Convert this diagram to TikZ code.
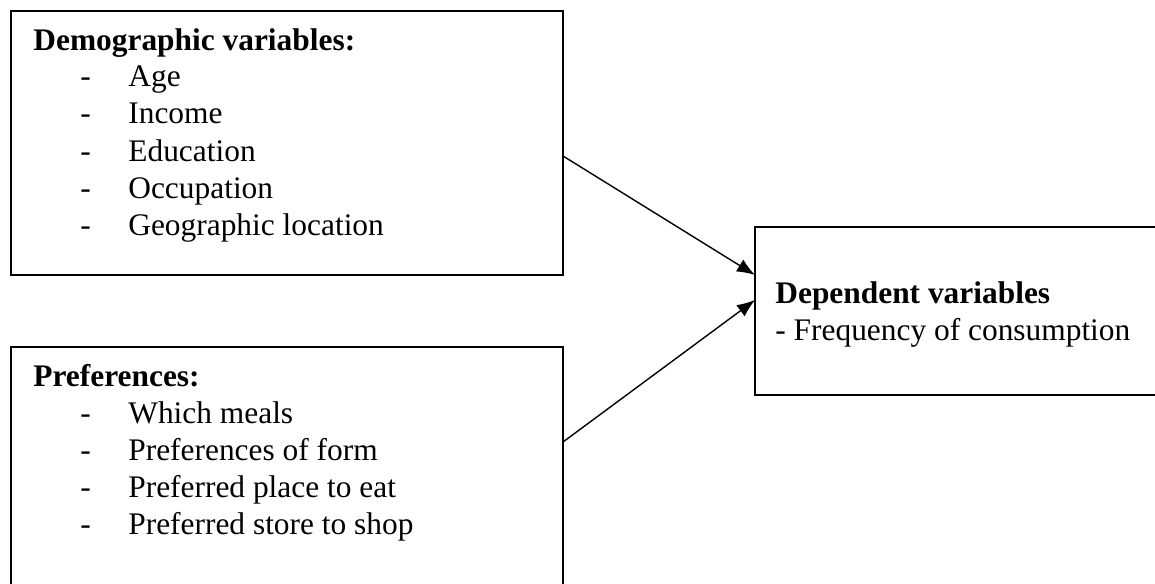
\documentclass[tikz,border=0pt]{standalone}
\usepackage{fontspec}
\setmainfont{Liberation Serif}
\usetikzlibrary{positioning,arrows.meta}
\newcommand{\pitch}{37}

\begin{document}
\begin{tikzpicture}[x=0.5pt, y=-0.5pt, font=\fontsize{15.7}{18.5}\selectfont]
  \tikzset{box/.style={draw, line width=1pt, outer sep=0pt, inner sep=0pt}}
  \tikzset{textline/.style={anchor=base west, inner sep=0pt}}
  \tikzset{link/.style={line width=0.7pt, -{Latex[length=9pt, width=7pt]}}}
  \useasboundingbox (0,0) rectangle (1155,583);
  \clip (0,0) rectangle (1155,583);
  % boxes (two of them run past the page edge)
  \node[box, minimum width=276pt, minimum height=132pt] (demo) at (287,143) {};
  \node[box, minimum width=276pt, minimum height=128pt] (pref) at (287,475) {};
  \node[box, minimum width=210pt, minimum height=84pt] (dep) at (965,311) {};
  % demographic variables
  \node[textline] (demo-title) at (33,50.5) {\textbf{Demographic variables:}};
  \foreach \entry [count=\i] in {Age, Income, Education, Occupation, Geographic location}
    \node[textline] (demo-\i) at (80,50+\i*\pitch) {\makebox[24pt][l]{-}\entry};
  % preferences
  \node[textline] (pref-title) at (33,386.5) {\textbf{Preferences:}};
  \foreach \entry [count=\i] in {Which meals, Preferences of form, Preferred place to eat, Preferred store to shop}
    \node[textline] (pref-\i) at (80,386+\i*\pitch) {\makebox[24pt][l]{-}\entry};
  % dependent variables
  \node[textline] (dep-title) at (775,303) {\textbf{Dependent variables}};
  \node[textline] (dep-1) at (775,340) {- Frequency of consumption};
  % arrows
  \draw[link] ([yshift=-6.5pt]demo.east) -- ([yshift=18pt]dep.west);
  \draw[link] ([yshift=16.5pt]pref.east) -- ([yshift=5.5pt]dep.west);
\end{tikzpicture}
\end{document}
